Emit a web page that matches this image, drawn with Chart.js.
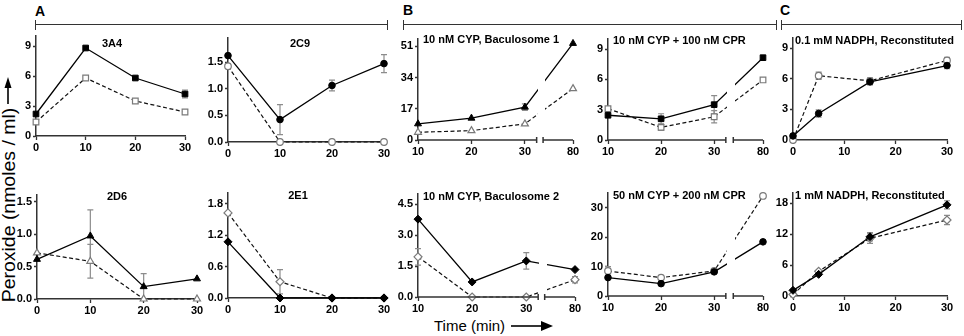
<!DOCTYPE html>
<html>
<head>
<meta charset="utf-8">
<script src="https://cdn.jsdelivr.net/npm/chart.js@4/dist/chart.umd.min.js"></script>
<style>
  body { margin: 0; width: 964px; height: 336px; position: relative; overflow: hidden; background: #fff;
         font-family: "Liberation Sans", Arial, sans-serif; }
  canvas { position: absolute; }
  .t { position: absolute; white-space: nowrap; line-height: 1; font-weight: bold; font-size: 11px; color: #000; }
  .c { transform: translateX(-50%); }
  .big { font-size: 14px; }
  .hl { position: absolute; height: 0; border-top: 1.3px solid #333; }
  .vl { position: absolute; width: 0; height: 10px; border-left: 1.3px solid #333; }
  svg { position: absolute; left: 0; top: 0; }
</style>
</head>
<body>

<div class="t big" style="left:35px;top:4px">A</div>
<div class="t big" style="left:403px;top:3px">B</div>
<div class="t big" style="left:780px;top:3px">C</div>
<div class="hl" style="left:35px;top:24px;width:353px"></div>
<div class="vl" style="left:35px;top:20px"></div>
<div class="vl" style="left:387px;top:20px"></div>
<div class="hl" style="left:403px;top:24px;width:374px"></div>
<div class="vl" style="left:403px;top:20px"></div>
<div class="vl" style="left:776px;top:20px"></div>
<div class="hl" style="left:781px;top:24px;width:181px"></div>
<div class="vl" style="left:781px;top:20px"></div>
<div class="vl" style="left:961px;top:20px"></div>

<div style="position:absolute;left:8.5px;top:205px;transform:translate(-50%,-50%) rotate(-90deg) scaleX(1.08);font-size:18px;white-space:nowrap;line-height:1">Peroxide (nmoles / ml)</div>
<div style="position:absolute;left:434px;top:318px;font-size:15px;white-space:nowrap;line-height:1">Time (min)</div>
<svg width="964" height="336">
  <line x1="8" y1="104" x2="8" y2="86" stroke="#000" stroke-width="1.6"/>
  <polygon points="8,77 4.5,88 11.5,88" fill="#000"/>
  <line x1="511" y1="326" x2="542" y2="326" stroke="#000" stroke-width="1.6"/>
  <polygon points="553,326 541,321 541,331" fill="#000"/>
</svg>

<script>
// time points (min)
var tA = [0, 10, 20, 30];
var tB = [10, 20, 30, 80];
var tC = [0, 5, 15, 30];

// x tick labels
var xTicksA = [0, 10, 20, 30];
var xLabelsA = ['0', '10', '20', '30'];
var xLabelsB = ['10', '20', '30', '80'];

// A: 3A4
var a3A4Filled = [2.2, 8.8, 5.8, 4.2];
var a3A4FilledErr = [0, 0, 0, 0.4];
var a3A4Open = [1.4, 5.8, 3.5, 2.4];
var a3A4OpenErr = [0, 0, 0, 0];
var y3A4 = [0, 3, 6, 9];
var yl3A4 = ['0', '3', '6', '9'];

// A: 2C9
var a2C9Filled = [1.62, 0.42, 1.06, 1.47];
var a2C9FilledErr = [0, 0.28, 0.1, 0.17];
var a2C9Open = [1.42, 0, 0, 0];
var a2C9OpenErr = [0, 0, 0, 0];
var y2C9 = [0, 0.5, 1, 1.5];
var yl2C9 = ['0.0', '0.5', '1.0', '1.5'];

// A: 2D6
var a2D6Filled = [0.61, 0.97, 0.19, 0.31];
var a2D6FilledErr = [0, 0.4, 0.2, 0];
var a2D6Open = [0.71, 0.58, 0, 0];
var a2D6OpenErr = [0, 0.26, 0, 0];
var y2D6 = [0, 0.5, 1, 1.5];
var yl2D6 = ['0.0', '0.5', '1.0', '1.5'];

// A: 2E1
var a2E1Filled = [1.07, 0, 0, 0];
var a2E1FilledErr = [0, 0, 0, 0];
var a2E1Open = [1.62, 0.31, 0, 0];
var a2E1OpenErr = [0, 0.23, 0, 0];
var y2E1 = [0, 0.6, 1.2, 1.8];
var yl2E1 = ['0.0', '0.6', '1.2', '1.8'];

// B: 10 nM CYP, Baculosome 1
var bBac1Filled = [8.8, 11.9, 17.9, 52.6];
var bBac1FilledErr = [0, 0, 1.8, 0];
var bBac1Open = [4.2, 5.1, 8.8, 28];
var bBac1OpenErr = [0, 0, 0, 0];
var yBac1 = [0, 17, 34, 51];
var ylBac1 = ['0', '17', '34', '51'];

// B: 10 nM CYP + 100 nM CPR
var bCpr100Filled = [2.45, 2.1, 3.5, 8.15];
var bCpr100FilledErr = [0, 0.5, 0.9, 0];
var bCpr100Open = [3.1, 1.25, 2.3, 5.95];
var bCpr100OpenErr = [0.2, 0.3, 0.6, 0];
var yCpr100 = [0, 3, 6, 9];
var ylCpr100 = ['0', '3', '6', '9'];

// B: 10 nM CYP, Baculosome 2
var bBac2Filled = [3.78, 0.73, 1.75, 1.33];
var bBac2FilledErr = [0, 0, 0.4, 0];
var bBac2Open = [1.95, 0, 0, 0.84];
var bBac2OpenErr = [0.4, 0, 0, 0.15];
var yBac2 = [0, 1.5, 3, 4.5];
var ylBac2 = ['0.0', '1.5', '3.0', '4.5'];

// B: 50 nM CYP + 200 nM CPR
var bCpr200Filled = [6.25, 4.2, 8.2, 18.4];
var bCpr200FilledErr = [0, 0, 0, 0];
var bCpr200Open = [8.5, 6.25, 8.5, 34];
var bCpr200OpenErr = [1.5, 0, 0, 0];
var yCpr200 = [0, 10, 20, 30];
var ylCpr200 = ['0', '10', '20', '30'];

// C: 0.1 mM NADPH, Reconstituted
var cN01Filled = [0.4, 2.6, 5.7, 7.3];
var cN01FilledErr = [0, 0.35, 0.3, 0.3];
var cN01Open = [0, 6.3, 5.8, 7.8];
var cN01OpenErr = [0, 0.35, 0.3, 0.3];
var yN01 = [0, 3, 6, 9];
var ylN01 = ['0', '3', '6', '9'];

// C: 1 mM NADPH, Reconstituted
var cN1Filled = [1.1, 4.2, 11.5, 17.7];
var cN1FilledErr = [0, 0, 0.8, 0.8];
var cN1Open = [0.3, 4.8, 11.2, 14.75];
var cN1OpenErr = [0, 0, 1, 0.9];
var yN1 = [0, 6, 12, 18];
var ylN1 = ['0', '6', '12', '18'];

Chart.defaults.font.family = '"Liberation Sans", Arial, sans-serif';

// panel placement: plot box [left, right, top, bottom] in page pixels
var panels = [
  { box: [35.5, 185, 36, 136], xMin: 0, xMax: 30, yMax: 10, t: tA, xl: xLabelsA, yt: y3A4, yl: yl3A4,
    shape: 'rect', r: 4, f: a3A4Filled, fe: a3A4FilledErr, o: a3A4Open, oe: a3A4OpenErr,
    title: '3A4', tx: 112, ty: 43, center: true },
  { box: [228, 384, 38, 142], xMin: 0, xMax: 30, yMax: 1.95, t: tA, xl: xLabelsA, yt: y2C9, yl: yl2C9,
    shape: 'circle', r: 3.3, f: a2C9Filled, fe: a2C9FilledErr, o: a2C9Open, oe: a2C9OpenErr,
    title: '2C9', tx: 300, ty: 43, center: true },
  { box: [37, 197, 195, 299], xMin: 0, xMax: 30, yMax: 1.6, t: tA, xl: xLabelsA, yt: y2D6, yl: yl2D6,
    shape: 'triangle', r: 4, f: a2D6Filled, fe: a2D6FilledErr, o: a2D6Open, oe: a2D6OpenErr,
    title: '2D6', tx: 117, ty: 196, center: true },
  { box: [228, 384, 193, 297.7], xMin: 0, xMax: 30, yMax: 2.0, t: tA, xl: xLabelsA, yt: y2E1, yl: yl2E1,
    shape: 'rectRot', r: 4, f: a2E1Filled, fe: a2E1FilledErr, o: a2E1Open, oe: a2E1OpenErr,
    title: '2E1', tx: 298, ty: 195, center: true },
  { box: [418, 573, 38.6, 140], xMin: 10, xMax: 39, x80: 39, brk: [32.2, 33.4], yMax: 55, t: tB, xl: xLabelsB, yt: yBac1, yl: ylBac1,
    shape: 'triangle', r: 4, f: bBac1Filled, fe: bBac1FilledErr, o: bBac1Open, oe: bBac1OpenErr,
    title: '10 nM CYP, Baculosome 1', tx: 423, ty: 39 },
  { box: [608, 763, 39, 140], xMin: 10, xMax: 39.2, x80: 39.2, brk: [32.2, 33.6], yMax: 10, t: tB, xl: xLabelsB, yt: yCpr100, yl: ylCpr100,
    shape: 'rect', r: 4, f: bCpr100Filled, fe: bCpr100FilledErr, o: bCpr100Open, oe: bCpr100OpenErr,
    title: '10 nM CYP + 100 nM CPR', tx: 613, ty: 40.5 },
  { box: [418, 575, 194, 296.7], xMin: 10, xMax: 39, x80: 39, brk: [32.2, 33.4], yMax: 5, t: tB, xl: xLabelsB, yt: yBac2, yl: ylBac2,
    shape: 'rectRot', r: 4, f: bBac2Filled, fe: bBac2FilledErr, o: bBac2Open, oe: bBac2OpenErr,
    title: '10 nM CYP, Baculosome 2', tx: 423, ty: 196.5 },
  { box: [608, 763, 193, 295.7], xMin: 10, xMax: 39.2, x80: 39.2, brk: [32.2, 33.6], yMax: 35, t: tB, xl: xLabelsB, yt: yCpr200, yl: ylCpr200,
    shape: 'circle', r: 3.3, f: bCpr200Filled, fe: bCpr200FilledErr, o: bCpr200Open, oe: bCpr200OpenErr,
    title: '50 nM CYP + 200 nM CPR', tx: 613, ty: 195 },
  { box: [793.3, 947.3, 38, 140], xMin: 0, xMax: 30, yMax: 10, t: tC, xl: xLabelsA, yt: yN01, yl: ylN01,
    shape: 'circle', r: 3.3, f: cN01Filled, fe: cN01FilledErr, o: cN01Open, oe: cN01OpenErr,
    title: '0.1 mM NADPH, Reconstituted', tx: 795, ty: 40 },
  { box: [793.3, 947.3, 193, 295.7], xMin: 0, xMax: 30, yMax: 20, t: tC, xl: xLabelsA, yt: yN1, yl: ylN1,
    shape: 'rectRot', r: 4, f: cN1Filled, fe: cN1FilledErr, o: cN1Open, oe: cN1OpenErr,
    title: '1 mM NADPH, Reconstituted', tx: 795, ty: 195 }
];

// gray error bars with caps
var errorBars = {
  id: 'errorBars',
  beforeDatasetsDraw: function (chart) {
    var ctx = chart.ctx, xs = chart.scales.x, ys = chart.scales.y;
    ctx.save();
    ctx.strokeStyle = '#8c8c8c';
    ctx.lineWidth = 1.2;
    chart.data.datasets.forEach(function (ds) {
      ds.data.forEach(function (p, i) {
        var e = ds.err[i];
        if (!e) return;
        var x = xs.getPixelForValue(p.x);
        var y1 = ys.getPixelForValue(p.y + e);
        var y2 = ys.getPixelForValue(Math.max(p.y - e, 0));
        ctx.beginPath();
        ctx.moveTo(x, y1); ctx.lineTo(x, y2);
        ctx.moveTo(x - 3, y1); ctx.lineTo(x + 3, y1);
        ctx.moveTo(x - 3, y2); ctx.lineTo(x + 3, y2);
        ctx.stroke();
      });
    });
    ctx.restore();
  }
};

// x axis with a break between 30 and 80
var brokenAxis = {
  id: 'brokenAxis',
  afterDatasetsDraw: function (chart, args, opts) {
    if (!opts.brk) return;
    var a = chart.chartArea, xs = chart.scales.x, ctx = chart.ctx;
    var x1 = xs.getPixelForValue(opts.brk[0]), x2 = xs.getPixelForValue(opts.brk[1]);
    ctx.clearRect(x1 + 1, 0, x2 - x1 + 1, a.bottom - 2);
    ctx.save();
    ctx.strokeStyle = '#333';
    ctx.lineWidth = 1.5;
    ctx.beginPath();
    ctx.moveTo(a.left, a.bottom); ctx.lineTo(x1, a.bottom);
    ctx.moveTo(x2, a.bottom); ctx.lineTo(a.right, a.bottom);
    ctx.moveTo(x1, a.bottom - 3); ctx.lineTo(x1, a.bottom + 3);
    ctx.moveTo(x2, a.bottom - 3); ctx.lineTo(x2, a.bottom + 3);
    ctx.stroke();
    ctx.restore();
  }
};

function points(p, vals) {
  return p.t.map(function (t, i) { return { x: t > 30 ? p.x80 : t, y: vals[i] }; });
}

function makePanel(p) {
  var padL = 34, padR = 10, padT = 12, padB = 22;
  var L = Math.round(p.box[0]), R = Math.round(p.box[1]), T = Math.round(p.box[2]), B = Math.round(p.box[3]);
  var w = R - L + padL + padR, h = B - T + padT + padB;
  var c = document.createElement('canvas');
  c.width = w; c.height = h;
  c.style.width = w + 'px'; c.style.height = h + 'px';
  c.style.left = (L - padL) + 'px'; c.style.top = (T - padT) + 'px';
  document.body.appendChild(c);

  var xTicks = p.t === tB ? [10, 20, 30, p.x80] : xTicksA;
  var tickFont = { size: 11, weight: 'bold' };

  new Chart(c, {
    type: 'line',
    data: {
      datasets: [{
        data: points(p, p.f), err: p.fe,
        borderColor: '#000', borderWidth: 1.3,
        pointStyle: p.shape, pointRadius: p.r, pointBackgroundColor: '#000',
        pointBorderColor: '#000', pointBorderWidth: 1, clip: false
      }, {
        data: points(p, p.o), err: p.oe,
        borderColor: '#111', borderWidth: 1.2, borderDash: [4, 2.5],
        pointStyle: p.shape, pointRadius: p.r, pointBackgroundColor: '#fff',
        pointBorderColor: '#7a7a7a', pointBorderWidth: 1.2, clip: false
      }]
    },
    options: {
      responsive: false,
      animation: false,
      events: [],
      layout: { padding: { left: 0, right: padR, top: padT, bottom: 0 } },
      plugins: { legend: { display: false }, tooltip: { enabled: false }, brokenAxis: { brk: p.brk || null } },
      scales: {
        x: {
          type: 'linear', min: p.xMin, max: p.xMax,
          afterFit: function (s) { s.height = padB; },
          afterBuildTicks: function (s) { s.ticks = xTicks.map(function (v) { return { value: v }; }); },
          border: { display: !p.brk, color: '#333', width: 1.5 },
          grid: { drawOnChartArea: false, drawTicks: true, tickLength: 4, tickColor: '#333', tickWidth: 1.3 },
          ticks: { font: tickFont, color: '#000', padding: 1, maxRotation: 0, autoSkip: false,
                   callback: function (v, i) { return p.xl[i]; } }
        },
        y: {
          type: 'linear', min: 0, max: p.yMax,
          afterFit: function (s) { s.width = padL; },
          afterBuildTicks: function (s) { s.ticks = p.yt.map(function (v) { return { value: v }; }); },
          border: { color: '#333', width: 1.5 },
          grid: { drawOnChartArea: false, drawTicks: true, tickLength: 3, tickColor: '#333', tickWidth: 1.3 },
          ticks: { font: tickFont, color: '#000', padding: 2,
                   callback: function (v, i) { return p.yl[i]; } }
        }
      }
    },
    plugins: [errorBars, brokenAxis]
  });

  var d = document.createElement('div');
  d.className = 't' + (p.center ? ' c' : '');
  d.textContent = p.title;
  d.style.left = p.tx + 'px';
  d.style.top = (p.ty - 5.5) + 'px';
  document.body.appendChild(d);
}

panels.forEach(makePanel);
</script>
</body>
</html>
